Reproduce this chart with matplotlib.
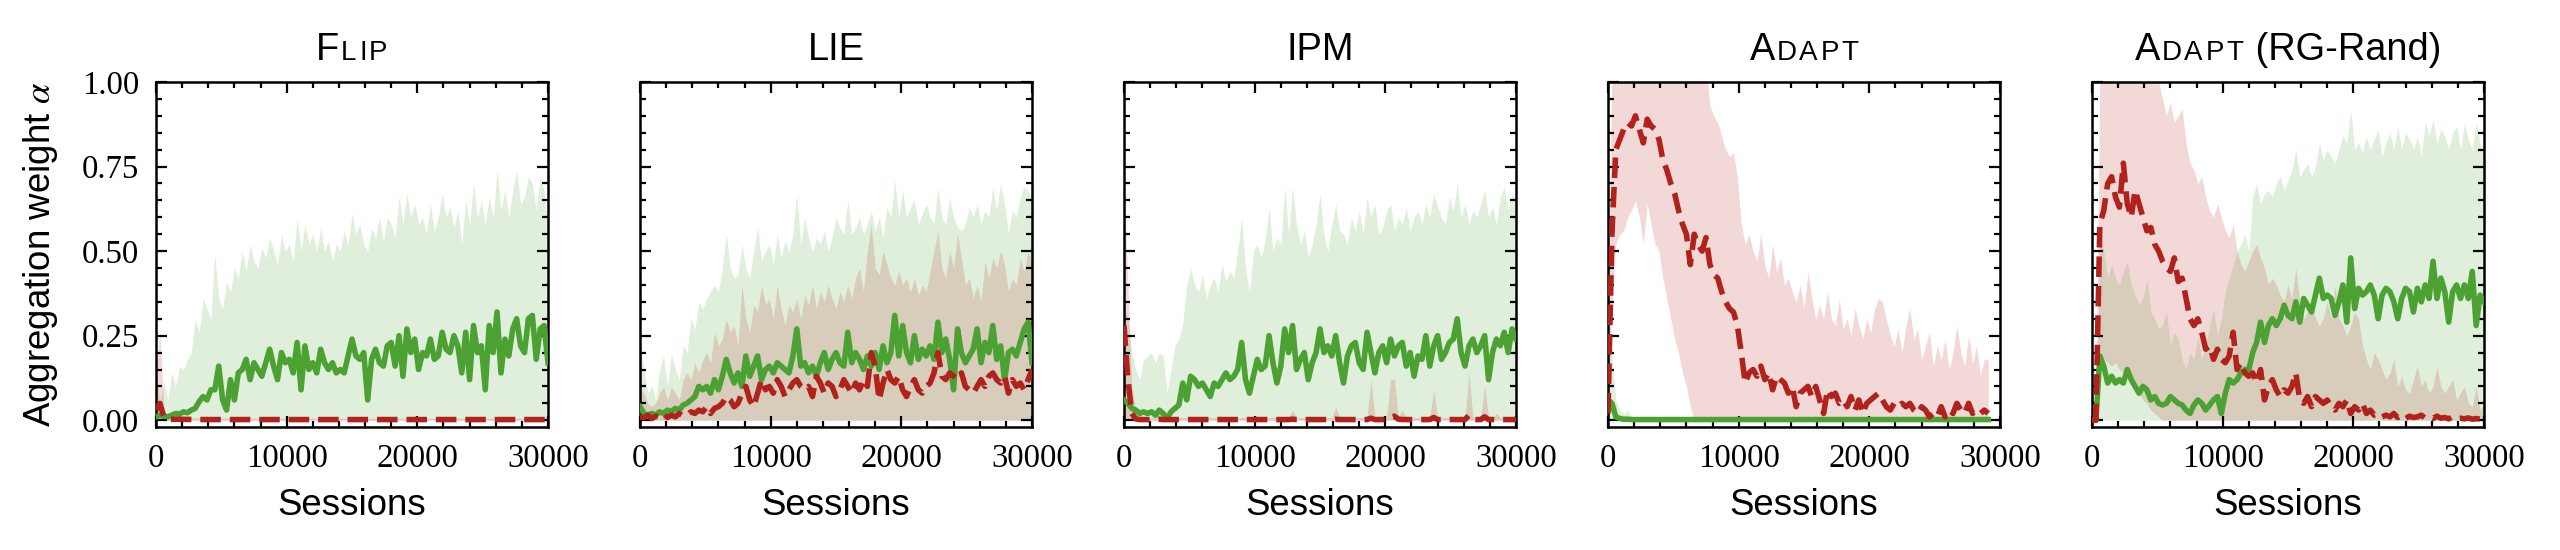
import matplotlib
matplotlib.use("Agg")
import matplotlib.pyplot as plt
from matplotlib.offsetbox import HPacker, TextArea, AnchoredOffsetbox
from matplotlib.ticker import MultipleLocator, FixedLocator, FormatStrFormatter

SANS = 'Liberation Sans'
SERIF = 'Liberation Serif'
plt.rcParams['font.family'] = [SERIF, 'DejaVu Serif']
plt.rcParams['mathtext.fontset'] = 'stix'

GREEN = '#4ba233'
RED = '#b2221c'

# ---------------- data ----------------
x_full = list(range(0, 30001, 300))      # 101 sessions
x_adapt = list(range(0, 29101, 300))     # 98 sessions

# ---- FLIP ----
flip_green_mean = [
    0.01, 0.015, 0.012, 0.01, 0.015, 0.02, 0.018, 0.025, 0.022, 0.03,
    0.035, 0.055, 0.07, 0.06, 0.09, 0.09, 0.16, 0.06, 0.03, 0.12,
    0.06, 0.14, 0.15, 0.18, 0.12, 0.17, 0.15, 0.13, 0.17, 0.21,
    0.16, 0.12, 0.2, 0.17, 0.18, 0.14, 0.23, 0.09, 0.22, 0.15,
    0.17, 0.14, 0.21, 0.17, 0.15, 0.17, 0.14, 0.15, 0.14, 0.19,
    0.24, 0.19, 0.18, 0.2, 0.06, 0.18, 0.21, 0.17, 0.16, 0.22,
    0.23, 0.16, 0.25, 0.13, 0.27, 0.2, 0.24, 0.15, 0.2, 0.19,
    0.24, 0.18, 0.19, 0.26, 0.21, 0.2, 0.25, 0.22, 0.14, 0.26,
    0.12, 0.28, 0.2, 0.22, 0.09, 0.28, 0.2, 0.32, 0.14, 0.24,
    0.19, 0.27, 0.3, 0.22, 0.2, 0.3, 0.31, 0.18, 0.27, 0.28,
    0.17]
flip_green_upper = [
    0.14, 0.05, 0.12, 0.06, 0.14, 0.1, 0.16, 0.15, 0.18, 0.2,
    0.3, 0.26, 0.36, 0.33, 0.3, 0.49, 0.36, 0.33, 0.41, 0.38,
    0.45, 0.42, 0.5, 0.44, 0.52, 0.47, 0.45, 0.51, 0.48, 0.54,
    0.5, 0.46, 0.55, 0.5, 0.52, 0.47, 0.6, 0.5, 0.58, 0.52,
    0.55, 0.5, 0.57, 0.5, 0.53, 0.47, 0.52, 0.5, 0.56, 0.52,
    0.61, 0.55, 0.58, 0.52, 0.5, 0.57, 0.54, 0.6, 0.53, 0.6,
    0.58, 0.54, 0.66, 0.58, 0.67, 0.6, 0.64, 0.58, 0.6, 0.55,
    0.64, 0.56, 0.6, 0.67, 0.6, 0.63, 0.57, 0.62, 0.52, 0.65,
    0.58, 0.7, 0.6, 0.65, 0.58, 0.66, 0.6, 0.74, 0.62, 0.68,
    0.6, 0.68, 0.74, 0.64, 0.66, 0.72, 0.7, 0.62, 0.72, 0.68,
    0.56]
flip_red_x = [0, 300, 600, 900, 1200, 1800, 3000, 6000, 9000, 12000,
              15000, 18000, 21000, 24000, 27000, 30000]
flip_red_mean = [0.03, 0.05, 0.01, 0.004, 0.003, 0.003, 0.002, 0.002, 0.002, 0.002,
                 0.002, 0.002, 0.002, 0.002, 0.002, 0.002]
flip_red_upper = [0.13, 0.27, 0.03, 0.015, 0.01, 0.008, 0.007, 0.006, 0.006, 0.006,
                  0.006, 0.006, 0.006, 0.006, 0.006, 0.006]

# ---- LIE ----
lie_green_mean = [
    0.04, 0.02, 0.015, 0.02, 0.015, 0.025, 0.02, 0.03, 0.025, 0.035,
    0.03, 0.045, 0.05, 0.06, 0.07, 0.1, 0.09, 0.1, 0.08, 0.12,
    0.09, 0.13, 0.18, 0.14, 0.11, 0.14, 0.1, 0.19, 0.13, 0.16,
    0.19, 0.12, 0.15, 0.16, 0.14, 0.17, 0.16, 0.15, 0.14, 0.19,
    0.27, 0.16, 0.17, 0.14, 0.16, 0.13, 0.17, 0.2, 0.15, 0.18,
    0.2, 0.17, 0.16, 0.26, 0.17, 0.2, 0.18, 0.15, 0.19, 0.16,
    0.2, 0.15, 0.22, 0.17, 0.2, 0.31, 0.19, 0.28, 0.2, 0.17,
    0.25, 0.18, 0.21, 0.19, 0.22, 0.18, 0.29, 0.2, 0.24, 0.18,
    0.09, 0.27, 0.2, 0.17, 0.19, 0.21, 0.27, 0.17, 0.23, 0.2,
    0.28, 0.18, 0.22, 0.12, 0.2, 0.21, 0.19, 0.23, 0.27, 0.29,
    0.17]
lie_green_upper = [
    0.23, 0.15, 0.08, 0.1, 0.06, 0.15, 0.19, 0.1, 0.2, 0.15,
    0.12, 0.22, 0.2, 0.3, 0.27, 0.35, 0.33, 0.36, 0.38, 0.4,
    0.38, 0.45, 0.55, 0.45, 0.42, 0.43, 0.52, 0.45, 0.42, 0.5,
    0.57, 0.47, 0.5, 0.52, 0.46, 0.55, 0.48, 0.53, 0.5, 0.55,
    0.67, 0.52, 0.6, 0.54, 0.5, 0.54, 0.52, 0.56, 0.5, 0.54,
    0.6, 0.57, 0.55, 0.65, 0.55, 0.57, 0.6, 0.55, 0.58, 0.62,
    0.56, 0.6, 0.54, 0.63, 0.6, 0.71, 0.6, 0.68, 0.6, 0.63,
    0.65, 0.58, 0.61, 0.64, 0.6, 0.58, 0.69, 0.6, 0.58, 0.66,
    0.6, 0.57, 0.56, 0.58, 0.63, 0.6, 0.64, 0.58, 0.62, 0.6,
    0.69, 0.62, 0.7, 0.64, 0.55, 0.62, 0.6, 0.66, 0.69, 0.68,
    0.64]
lie_red_mean = [
    0.01, 0.008, 0.015, 0.005, 0.012, 0.01, 0.02, 0.008, 0.015, 0.01,
    0.02, 0.012, 0.015, 0.025, 0.02, 0.03, 0.025, 0.04, 0.02, 0.035,
    0.04, 0.05, 0.07, 0.06, 0.04, 0.05, 0.08, 0.1, 0.06, 0.04,
    0.08, 0.12, 0.09, 0.1, 0.08, 0.12, 0.1, 0.07, 0.09, 0.11,
    0.12, 0.1, 0.09, 0.1, 0.07, 0.13, 0.11, 0.08, 0.11, 0.1,
    0.07, 0.09, 0.12, 0.1, 0.08, 0.11, 0.09, 0.12, 0.1, 0.2,
    0.16, 0.06, 0.11, 0.15, 0.12, 0.11, 0.13, 0.09, 0.07, 0.1,
    0.12, 0.09, 0.08, 0.1, 0.11, 0.14, 0.2, 0.13, 0.12, 0.14,
    0.13, 0.12, 0.14, 0.1, 0.09, 0.08, 0.1, 0.12, 0.1, 0.13,
    0.14, 0.12, 0.11, 0.13, 0.08, 0.12, 0.1, 0.11, 0.09, 0.12,
    0.15]
lie_red_upper = [
    0.1, 0.08, 0.05, 0.04, 0.05, 0.08, 0.1, 0.06, 0.1, 0.08,
    0.06, 0.12, 0.14, 0.12, 0.17, 0.14, 0.18, 0.2, 0.17, 0.26,
    0.22, 0.24, 0.3, 0.26, 0.28, 0.22, 0.4, 0.3, 0.26, 0.34,
    0.32, 0.4, 0.34, 0.36, 0.3, 0.4, 0.33, 0.28, 0.34, 0.32,
    0.36, 0.3, 0.37, 0.34, 0.4, 0.33, 0.38, 0.35, 0.4, 0.36,
    0.33, 0.38, 0.35, 0.4, 0.36, 0.42, 0.45, 0.38, 0.5, 0.58,
    0.45, 0.43, 0.5, 0.46, 0.42, 0.4, 0.44, 0.4, 0.42, 0.38,
    0.42, 0.37, 0.4, 0.38, 0.44, 0.5, 0.56, 0.45, 0.42, 0.5,
    0.45, 0.55, 0.48, 0.4, 0.42, 0.36, 0.4, 0.35, 0.47, 0.42,
    0.48, 0.45, 0.5, 0.46, 0.38, 0.42, 0.4, 0.48, 0.44, 0.5,
    0.47]

# ---- IPM ----
ipm_green_mean = [
    0.06, 0.05, 0.035, 0.03, 0.02, 0.025, 0.02, 0.025, 0.015, 0.03,
    0.02, 0.005, 0.025, 0.035, 0.045, 0.11, 0.06, 0.13, 0.12, 0.1,
    0.11, 0.09, 0.07, 0.11, 0.1, 0.12, 0.14, 0.12, 0.13, 0.15,
    0.23, 0.12, 0.08, 0.13, 0.18, 0.15, 0.16, 0.25, 0.17, 0.11,
    0.16, 0.27, 0.2, 0.28, 0.15, 0.18, 0.2, 0.12, 0.17, 0.2,
    0.27, 0.2, 0.22, 0.19, 0.25, 0.17, 0.11, 0.19, 0.22, 0.23,
    0.17, 0.15, 0.26, 0.2, 0.14, 0.2, 0.22, 0.17, 0.24, 0.19,
    0.22, 0.23, 0.16, 0.2, 0.13, 0.19, 0.18, 0.25, 0.16, 0.22,
    0.25, 0.18, 0.2, 0.23, 0.24, 0.3, 0.2, 0.16, 0.22, 0.24,
    0.2, 0.22, 0.25, 0.12, 0.2, 0.24, 0.22, 0.26, 0.2, 0.27,
    0.24]
ipm_green_upper = [
    0.35, 0.3, 0.2, 0.15, 0.12, 0.18, 0.19, 0.2, 0.17, 0.2,
    0.19, 0.08, 0.15, 0.22, 0.24, 0.29, 0.4, 0.45, 0.4, 0.38,
    0.43, 0.36, 0.4, 0.42, 0.38, 0.46, 0.41, 0.44, 0.42, 0.5,
    0.6, 0.45, 0.38, 0.5, 0.52, 0.48, 0.53, 0.63, 0.5, 0.54,
    0.52, 0.69, 0.55, 0.69, 0.58, 0.52, 0.56, 0.48, 0.52, 0.58,
    0.67, 0.55, 0.5, 0.58, 0.64, 0.56, 0.55, 0.52, 0.6, 0.56,
    0.62, 0.55, 0.66, 0.6, 0.64, 0.55, 0.57, 0.62, 0.64, 0.56,
    0.6, 0.58, 0.63, 0.56, 0.6, 0.62, 0.58, 0.64, 0.6, 0.67,
    0.63, 0.6, 0.58, 0.66, 0.62, 0.7, 0.6, 0.64, 0.58, 0.62,
    0.6, 0.64, 0.68, 0.6, 0.63, 0.58, 0.66, 0.69, 0.62, 0.67,
    0.65]
ipm_red_mean = [
    0.28, 0.12, 0.02, 0.004, 0.002, 0.002, 0.002, 0.002, 0.002, 0.003,
    0.002, 0.002, 0.002, 0.002, 0.002, 0.002, 0.002, 0.002, 0.002, 0.002,
    0.002, 0.002, 0.002, 0.002, 0.002, 0.002, 0.002, 0.002, 0.002, 0.002,
    0.002, 0.002, 0.002, 0.002, 0.002, 0.002, 0.002, 0.002, 0.002, 0.002,
    0.002, 0.002, 0.002, 0.003, 0.002, 0.002, 0.002, 0.002, 0.002, 0.002,
    0.002, 0.002, 0.002, 0.002, 0.003, 0.002, 0.002, 0.002, 0.002, 0.002,
    0.002, 0.002, 0.002, 0.006, 0.002, 0.002, 0.002, 0.002, 0.008, 0.012,
    0.003, 0.002, 0.002, 0.002, 0.002, 0.002, 0.002, 0.002, 0.002, 0.008,
    0.002, 0.002, 0.002, 0.002, 0.002, 0.002, 0.002, 0.002, 0.015, 0.003,
    0.002, 0.002, 0.01, 0.002, 0.002, 0.002, 0.002, 0.002, 0.002, 0.002,
    0.002]
ipm_red_upper = [
    0.72, 0.4, 0.1, 0.03, 0.015, 0.008, 0.008, 0.008, 0.01, 0.03,
    0.01, 0.008, 0.008, 0.008, 0.008, 0.008, 0.008, 0.008, 0.008, 0.008,
    0.008, 0.008, 0.008, 0.008, 0.008, 0.008, 0.008, 0.008, 0.008, 0.008,
    0.008, 0.008, 0.008, 0.008, 0.008, 0.008, 0.008, 0.008, 0.008, 0.008,
    0.008, 0.008, 0.008, 0.03, 0.008, 0.008, 0.008, 0.008, 0.008, 0.008,
    0.008, 0.008, 0.008, 0.008, 0.04, 0.008, 0.008, 0.008, 0.008, 0.008,
    0.008, 0.008, 0.008, 0.12, 0.008, 0.008, 0.008, 0.008, 0.12, 0.12,
    0.01, 0.03, 0.008, 0.008, 0.008, 0.008, 0.008, 0.008, 0.008, 0.09,
    0.008, 0.008, 0.008, 0.008, 0.008, 0.008, 0.008, 0.008, 0.14, 0.01,
    0.008, 0.008, 0.1, 0.008, 0.008, 0.02, 0.008, 0.008, 0.008, 0.008,
    0.008]

# ---- ADAPT ----
adapt_red_mean = [
    0.02, 0.55, 0.8, 0.83, 0.86, 0.88, 0.87, 0.9, 0.86, 0.82,
    0.89, 0.87, 0.86, 0.83, 0.77, 0.74, 0.7, 0.67, 0.62, 0.58,
    0.55, 0.46, 0.55, 0.52, 0.5, 0.54, 0.46, 0.43, 0.42, 0.38,
    0.35, 0.33, 0.32, 0.28, 0.2, 0.11, 0.14, 0.15, 0.13, 0.16,
    0.12, 0.14, 0.09, 0.13, 0.12, 0.11, 0.08, 0.1, 0.04, 0.08,
    0.09, 0.1, 0.07, 0.1, 0.06, 0.02, 0.09, 0.07, 0.08, 0.05,
    0.06, 0.04, 0.07, 0.03, 0.06, 0.02, 0.05, 0.06, 0.07, 0.08,
    0.06, 0.04, 0.03, 0.05, 0.04, 0.05, 0.04, 0.05, 0.03, 0.02,
    0.04, 0.03, 0.01, 0.02, 0.01, 0.04, 0.01, 0.03, 0.02, 0.05,
    0.03, 0.02, 0.05, 0.02, 0.03, 0.02, 0.03, 0.02]
adapt_red_upper = [
    0.3, 1.05, 1.05, 1.05, 1.05, 1.05, 1.05, 1.05, 1.05, 1.05,
    1.05, 1.05, 1.05, 1.05, 1.05, 1.05, 1.05, 1.05, 1.05, 1.05,
    1.05, 1.05, 1.05, 1.05, 1.05, 1.05, 0.93, 0.9, 0.88, 0.84,
    0.8, 0.78, 0.79, 0.72, 0.58, 0.52, 0.55, 0.5, 0.47, 0.55,
    0.46, 0.42, 0.52, 0.44, 0.48, 0.4, 0.42, 0.38, 0.35, 0.4,
    0.33, 0.44, 0.36, 0.3, 0.34, 0.3, 0.38, 0.3, 0.28, 0.36,
    0.27, 0.3, 0.25, 0.33, 0.28, 0.24, 0.3, 0.26, 0.33, 0.36,
    0.35, 0.3, 0.25, 0.22, 0.27, 0.2, 0.28, 0.33, 0.24, 0.27,
    0.18, 0.22, 0.26, 0.16, 0.22, 0.18, 0.24, 0.15, 0.2, 0.28,
    0.2, 0.16, 0.25, 0.17, 0.22, 0.13, 0.18, 0.18]
adapt_red_lower = [
    0.0, 0.35, 0.52, 0.55, 0.56, 0.6, 0.62, 0.65, 0.6, 0.52,
    0.64, 0.58, 0.52, 0.5, 0.42, 0.36, 0.3, 0.24, 0.2, 0.14,
    0.1, 0.04, 0.0, 0.0, 0.0, 0.0, 0.0, 0.0, 0.0, 0.0,
    0.0, 0.0, 0.0, 0.0, 0.0, 0.0, 0.0, 0.0, 0.0, 0.0,
    0.0, 0.0, 0.0, 0.0, 0.0, 0.0, 0.0, 0.0, 0.0, 0.0,
    0.0, 0.0, 0.0, 0.0, 0.0, 0.0, 0.0, 0.0, 0.0, 0.0,
    0.0, 0.0, 0.0, 0.0, 0.0, 0.0, 0.0, 0.0, 0.0, 0.0,
    0.0, 0.0, 0.0, 0.0, 0.0, 0.0, 0.0, 0.0, 0.0, 0.0,
    0.0, 0.0, 0.0, 0.0, 0.0, 0.0, 0.0, 0.0, 0.0, 0.0,
    0.0, 0.0, 0.0, 0.0, 0.0, 0.0, 0.0, 0.0]
adapt_green_x = [0, 300, 600, 900, 1200, 1500, 1800, 2100, 3000, 6000,
                 9000, 12000, 15000, 18000, 21000, 24000, 27000, 29100]
adapt_green_mean = [0.06, 0.05, 0.01, 0.005, 0.003, 0.003, 0.002, 0.002, 0.002, 0.002,
                    0.002, 0.002, 0.002, 0.002, 0.002, 0.002, 0.002, 0.002]
adapt_green_upper = [0.25, 0.2, 0.06, 0.03, 0.02, 0.03, 0.01, 0.005, 0.005, 0.005,
                     0.005, 0.005, 0.005, 0.005, 0.005, 0.005, 0.005, 0.005]

# ---- ADAPT (RG-Rand) ----
rg_red_mean = [
    0.0, 0.0, 0.58, 0.62, 0.7, 0.72, 0.66, 0.63, 0.76, 0.64,
    0.6, 0.68, 0.64, 0.6, 0.56, 0.57, 0.52, 0.5, 0.47, 0.45,
    0.44, 0.48, 0.41, 0.42, 0.36, 0.3, 0.28, 0.3, 0.26, 0.21,
    0.22, 0.18, 0.21, 0.18, 0.17, 0.19, 0.26, 0.15, 0.17, 0.14,
    0.13, 0.14, 0.11, 0.15, 0.06, 0.1, 0.12, 0.09, 0.07, 0.09,
    0.08, 0.1, 0.14, 0.06, 0.05, 0.07, 0.04, 0.07, 0.06, 0.05,
    0.06, 0.04, 0.03, 0.05, 0.04, 0.06, 0.02, 0.04, 0.03, 0.05,
    0.02, 0.03, 0.015, 0.02, 0.01, 0.015, 0.01, 0.02, 0.008, 0.015,
    0.005, 0.012, 0.008, 0.01, 0.015, 0.006, 0.01, 0.005, 0.012, 0.006,
    0.008, 0.004, 0.01, 0.005, 0.006, 0.004, 0.007, 0.003, 0.005, 0.003,
    0.004]
rg_red_upper = [
    0.0, 0.0, 1.05, 1.05, 1.05, 1.05, 1.05, 1.05, 1.05, 1.05,
    1.05, 1.05, 1.05, 1.05, 1.05, 1.05, 1.05, 1.0, 0.95, 0.9,
    0.94, 0.88, 0.9, 0.92, 0.82, 0.76, 0.74, 0.7, 0.72, 0.66,
    0.62, 0.6, 0.64, 0.6, 0.56, 0.54, 0.58, 0.5, 0.46, 0.44,
    0.47, 0.5, 0.52, 0.48, 0.45, 0.4, 0.42, 0.4, 0.37, 0.35,
    0.4, 0.36, 0.45, 0.35, 0.3, 0.32, 0.35, 0.3, 0.28, 0.3,
    0.35, 0.3, 0.4, 0.3, 0.28, 0.25, 0.28, 0.32, 0.3, 0.22,
    0.18, 0.15, 0.2, 0.18, 0.15, 0.12, 0.14, 0.18, 0.1, 0.13,
    0.09, 0.08, 0.12, 0.16, 0.1, 0.12, 0.08, 0.1, 0.16, 0.1,
    0.08, 0.1, 0.12, 0.06, 0.08, 0.1, 0.05, 0.04, 0.1, 0.03,
    0.05]
rg_red_lower = [
    0.0, 0.0, 0.2, 0.18, 0.17, 0.16, 0.17, 0.15, 0.14, 0.15,
    0.12, 0.1, 0.08, 0.06, 0.05, 0.03, 0.02, 0.01, 0.0, 0.0,
    0.0, 0.0, 0.0, 0.0, 0.0, 0.0, 0.0, 0.0, 0.0, 0.0,
    0.0, 0.0, 0.0, 0.0, 0.0, 0.0, 0.0, 0.0, 0.0, 0.0,
    0.0, 0.0, 0.0, 0.0, 0.0, 0.0, 0.0, 0.0, 0.0, 0.0,
    0.0, 0.0, 0.0, 0.0, 0.0, 0.0, 0.0, 0.0, 0.0, 0.0,
    0.0, 0.0, 0.0, 0.0, 0.0, 0.0, 0.0, 0.0, 0.0, 0.0,
    0.0, 0.0, 0.0, 0.0, 0.0, 0.0, 0.0, 0.0, 0.0, 0.0,
    0.0, 0.0, 0.0, 0.0, 0.0, 0.0, 0.0, 0.0, 0.0, 0.0,
    0.0, 0.0, 0.0, 0.0, 0.0, 0.0, 0.0, 0.0, 0.0, 0.0,
    0.0]
rg_green_mean = [
    0.0, 0.0, 0.19, 0.16, 0.11, 0.13, 0.11, 0.12, 0.11, 0.15,
    0.12, 0.1, 0.08, 0.1, 0.09, 0.06, 0.07, 0.05, 0.045, 0.05,
    0.07, 0.06, 0.05, 0.045, 0.03, 0.02, 0.045, 0.06, 0.05, 0.03,
    0.045, 0.06, 0.07, 0.02, 0.08, 0.12, 0.11, 0.12, 0.14, 0.15,
    0.15, 0.2, 0.23, 0.29, 0.23, 0.28, 0.3, 0.28, 0.3, 0.34,
    0.31, 0.3, 0.35, 0.29, 0.36, 0.34, 0.32, 0.37, 0.42, 0.36,
    0.37, 0.36, 0.31, 0.35, 0.4, 0.29, 0.48, 0.33, 0.39, 0.37,
    0.38, 0.4, 0.37, 0.3, 0.37, 0.39, 0.38, 0.35, 0.3, 0.36,
    0.39, 0.38, 0.32, 0.39, 0.35, 0.4, 0.36, 0.47, 0.36, 0.42,
    0.38, 0.29, 0.38, 0.4, 0.36, 0.4, 0.36, 0.44, 0.28, 0.37,
    0.35]
rg_green_upper = [
    0.0, 0.0, 0.55, 0.5, 0.42, 0.46, 0.42, 0.4, 0.44, 0.47,
    0.4, 0.37, 0.34, 0.36, 0.42, 0.32, 0.3, 0.27, 0.28, 0.32,
    0.22, 0.26, 0.24, 0.18, 0.15, 0.2, 0.18, 0.25, 0.18, 0.22,
    0.28, 0.33, 0.25, 0.3, 0.38, 0.42, 0.46, 0.5, 0.52, 0.55,
    0.5, 0.66, 0.7, 0.64, 0.67, 0.68, 0.66, 0.7, 0.72, 0.68,
    0.71, 0.74, 0.8, 0.72, 0.74, 0.76, 0.72, 0.75, 0.82, 0.77,
    0.8, 0.78, 0.76, 0.8, 0.84, 0.82, 0.92, 0.8, 0.82, 0.79,
    0.84, 0.8, 0.83, 0.86, 0.78, 0.82, 0.85, 0.8, 0.87, 0.8,
    0.85, 0.83, 0.8, 0.84, 0.78, 0.88, 0.84, 0.89, 0.82, 0.86,
    0.84, 0.8, 0.85, 0.87, 0.8, 0.88, 0.83, 0.8, 0.88, 0.82,
    0.78]

# titles: list of (text, small_caps_flag) pieces
titles = [
    [("F", False), ("LIP", True)],
    [("LIE", False)],
    [("IPM", False)],
    [("A", False), ("DAPT", True)],
    [("A", False), ("DAPT", True), (" (RG-Rand)", False)],
]

panels = [
    dict(gx=x_full, gm=flip_green_mean, gu=flip_green_upper, gl=None,
         rx=flip_red_x, rm=flip_red_mean, ru=flip_red_upper, rl=None),
    dict(gx=x_full, gm=lie_green_mean, gu=lie_green_upper, gl=None,
         rx=x_full, rm=lie_red_mean, ru=lie_red_upper, rl=None),
    dict(gx=x_full, gm=ipm_green_mean, gu=ipm_green_upper, gl=None,
         rx=x_full, rm=ipm_red_mean, ru=ipm_red_upper, rl=None),
    dict(gx=adapt_green_x, gm=adapt_green_mean, gu=adapt_green_upper, gl=None,
         rx=x_adapt, rm=adapt_red_mean, ru=adapt_red_upper, rl=adapt_red_lower),
    dict(gx=x_full, gm=rg_green_mean, gu=rg_green_upper, gl=None,
         rx=x_full, rm=rg_red_mean, ru=rg_red_upper, rl=rg_red_lower),
]

# ---------------- figure ----------------
W, H = 2560, 550
fig = plt.figure(figsize=(W / 200, H / 200), dpi=200)
lefts_px = [156, 640, 1124, 1608, 2092]
ax_w, ax_h, ax_top = 392, 345, 82

BIG, SMALL = 13.7, 10.0
LW = 2.0


def title_box(pieces):
    children = []
    for text, sc in pieces:
        if sc:
            letters = [TextArea(ch, textprops=dict(fontfamily=SANS, fontsize=SMALL))
                       for ch in text]
            children.append(HPacker(children=letters, align='baseline', pad=0, sep=0.9))
        else:
            children.append(TextArea(text, textprops=dict(fontfamily=SANS, fontsize=BIG)))
    return HPacker(children=children, align='baseline', pad=0, sep=0.6)


for k, (p, left) in enumerate(zip(panels, lefts_px)):
    ax = fig.add_axes([left / W, (H - ax_top - ax_h) / H, ax_w / W, ax_h / H])
    glo = p['gl'] if p['gl'] is not None else 0
    rlo = p['rl'] if p['rl'] is not None else 0
    ax.fill_between(p['gx'], glo, p['gu'], color=GREEN, alpha=0.17, lw=0, zorder=1)
    ax.fill_between(p['rx'], rlo, p['ru'], color=RED, alpha=0.17, lw=0, zorder=1)
    ax.plot(p['gx'], p['gm'], color=GREEN, lw=LW, zorder=3)
    ax.plot(p['rx'], p['rm'], color=RED, lw=LW, ls='--', zorder=4)

    ax.set_xlim(0, 30000)
    ax.set_ylim(-0.02, 1.0)
    ax.xaxis.set_major_locator(FixedLocator([0, 10000, 20000, 30000]))
    ax.xaxis.set_minor_locator(MultipleLocator(2000))
    ax.yaxis.set_major_locator(MultipleLocator(0.25))
    ax.yaxis.set_minor_locator(MultipleLocator(0.05))
    ax.xaxis.set_major_formatter(FormatStrFormatter('%d'))
    ax.yaxis.set_major_formatter(FormatStrFormatter('%.2f'))
    ax.tick_params(which='both', direction='in', top=True, right=True,
                   width=0.8, labelsize=11.8)
    ax.tick_params(which='major', length=4, pad=6)
    ax.tick_params(which='minor', length=2)
    for s in ax.spines.values():
        s.set_linewidth(0.9)
    if k > 0:
        ax.tick_params(labelleft=False)
    else:
        ax.set_ylabel(r'Aggregation weight $\alpha$', fontfamily=SANS,
                      fontsize=13.2, labelpad=8)
    ax.set_xlabel('Sessions', fontfamily=SANS, fontsize=13.2, labelpad=5)

    anch = AnchoredOffsetbox(loc='lower center', child=title_box(titles[k]),
                             pad=0, borderpad=0, frameon=False,
                             bbox_to_anchor=(0.5, 1.04),
                             bbox_transform=ax.transAxes)
    ax.add_artist(anch)

fig.savefig('out.png', dpi=200)
